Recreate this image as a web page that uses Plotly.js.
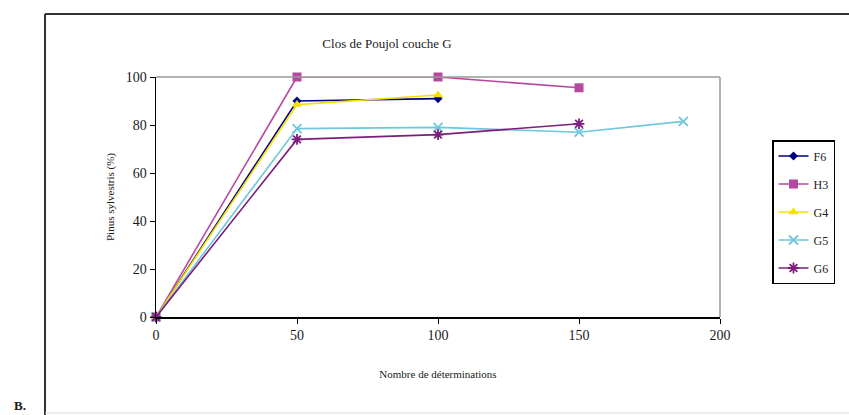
<!DOCTYPE html>
<html>
<head>
<meta charset="utf-8">
<script src="https://cdn.plot.ly/plotly-3.0.1.min.js"></script>
<style>html,body{margin:0;padding:0;background:#fff;}#chart{width:849px;height:415px;}</style>
</head>
<body>
<div id="chart"></div>
<script>
// Data
const seriesNames = ["F6", "H3", "G4", "G5", "G6"];
const xF6 = [0, 50, 100];
const yF6 = [0, 90, 91];
const xH3 = [0, 50, 100, 150];
const yH3 = [0, 100, 100, 95.5];
const xG4 = [0, 50, 100];
const yG4 = [0, 88.5, 92.5];
const xG5 = [0, 50, 100, 150, 187];
const yG5 = [0, 78.5, 79, 77, 81.5];
const xG6 = [0, 50, 100, 150];
const yG6 = [0, 74, 76, 80.5];
const xTicks = [0, 50, 100, 150, 200];
const yTicks = [0, 20, 40, 60, 80, 100];

const serif = "Liberation Serif, DejaVu Serif, serif";
const styles = [
  {color: "#000080", symbol: "diamond", size: 7},
  {color: "#B8479F", symbol: "square", size: 9},
  {color: "#F5E000", symbol: "triangle-up", size: 9},
  {color: "#6CC8DA", symbol: "x-thin-open", size: 9},
  {color: "#7B1E7B", symbol: "asterisk-open", size: 9}
];
const xs = [xF6, xH3, xG4, xG5, xG6];
const ys = [yF6, yH3, yG4, yG5, yG6];

const traces = seriesNames.map((n, i) => ({
  x: xs[i], y: ys[i], name: n, type: "scatter", mode: "lines+markers",
  legendgroup: n, cliponaxis: false,
  line: {color: styles[i].color, width: 1.6},
  marker: {color: styles[i].color, symbol: styles[i].symbol, size: styles[i].size,
           line: {color: styles[i].color, width: (styles[i].symbol.indexOf("open") >= 0 ? 1.8 : 0)}}
}));

const L = 156, R = 720, T = 77, B = 317;
const W = 849, H = 415;
const px = v => (v - L) / (R - L);
const py = v => (B - v) / (B - T);

const layout = {
  width: W, height: H,
  margin: {l: L, r: W - R, t: T, b: H - B, pad: 0},
  paper_bgcolor: "#fff", plot_bgcolor: "#fff",
  font: {family: serif, color: "#1a1a1a"},
  title: {text: "Clos de Poujol couche G", font: {family: serif, size: 13, color: "#1a1a1a"},
          x: px(387), xref: "paper", xanchor: "center", y: 1 - 43 / H, yanchor: "middle"},
  xaxis: {range: [0, 200], tickvals: xTicks, ticks: "outside", ticklen: 5, tickcolor: "#000",
          showline: true, linecolor: "#000", linewidth: 1.5, showgrid: false, zeroline: false,
          tickfont: {family: serif, size: 14, color: "#1a1a1a"},
          title: {text: "Nombre de déterminations", font: {family: serif, size: 11, color: "#1a1a1a"}, standoff: 28}},
  yaxis: {range: [0, 100], tickvals: yTicks, ticks: "outside", ticklen: 5, tickcolor: "#000",
          showline: true, linecolor: "#000", linewidth: 1.5, showgrid: false, zeroline: false,
          tickfont: {family: serif, size: 14, color: "#1a1a1a"},
          title: {text: "Pinus sylvestris (%)", font: {family: serif, size: 11, color: "#1a1a1a"}, standoff: 9}},
  legend: {x: px(772), y: py(140), xanchor: "left", yanchor: "top",
           bordercolor: "#000", borderwidth: 1.5, bgcolor: "#fff",
           font: {family: serif, size: 12, color: "#1a1a1a"},
           traceorder: "grouped", tracegroupgap: 9, itemwidth: 30},
  showlegend: true,
  shapes: [
    {type: "line", xref: "paper", yref: "paper", x0: 0, x1: 1, y0: 1, y1: 1, line: {color: "#999", width: 1.5}},
    {type: "line", xref: "paper", yref: "paper", x0: 1, x1: 1, y0: 0, y1: 1, line: {color: "#999", width: 1.5}},
    {type: "line", xref: "paper", yref: "paper", x0: px(45), x1: px(849), y0: py(14), y1: py(14), line: {color: "#333", width: 2}},
    {type: "line", xref: "paper", yref: "paper", x0: px(45), x1: px(45), y0: py(14), y1: py(415), line: {color: "#333", width: 2}},
    {type: "line", xref: "paper", yref: "paper", x0: px(45), x1: px(849), y0: py(413), y1: py(413), line: {color: "#ddd", width: 1}}
  ],
  annotations: [
    {text: "<b>B.</b>", xref: "paper", yref: "paper", x: px(20), y: py(405), xanchor: "center", yanchor: "middle",
     showarrow: false, font: {family: serif, size: 13, color: "#1a1a1a"}}
  ]
};

Plotly.newPlot("chart", traces, layout, {displayModeBar: false, staticPlot: true});
</script>
</body>
</html>
